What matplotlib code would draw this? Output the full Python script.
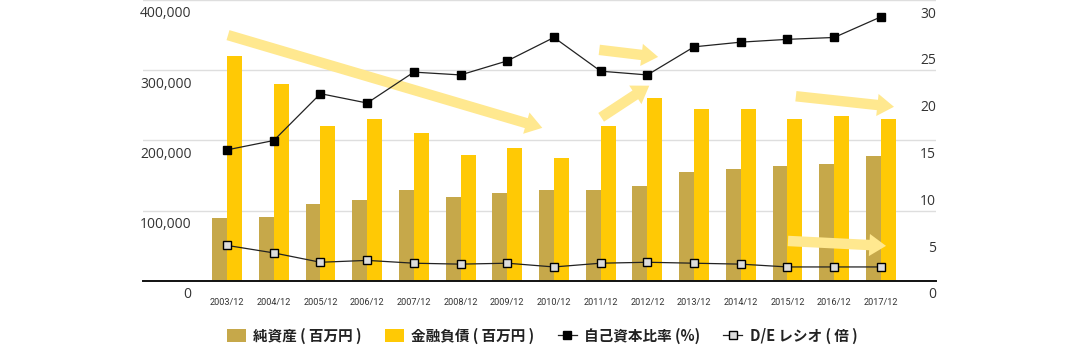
import matplotlib
matplotlib.use("Agg")
import matplotlib.pyplot as plt
import matplotlib.transforms as mtransforms
import numpy as np

plt.rcParams['font.family'] = ['Noto Sans CJK JP', 'DejaVu Sans']

years = ["2003/12", "2004/12", "2005/12", "2006/12", "2007/12", "2008/12", "2009/12", "2010/12",
         "2011/12", "2012/12", "2013/12", "2014/12", "2015/12", "2016/12", "2017/12"]
net_assets = [90000, 91000, 110000, 115000, 130000, 120000, 125000, 130000,
              130000, 135000, 155000, 159000, 164000, 166000, 178000]
fin_debt = [320000, 280000, 220000, 230000, 210000, 179000, 190000, 175000,
            220000, 260000, 245000, 245000, 230000, 235000, 231000]
equity_ratio = [14.0, 15.0, 20.0, 19.0, 22.3, 22.0, 23.5, 26.0,
                22.4, 22.0, 25.0, 25.5, 25.8, 26.0, 28.2]
de_ratio = [3.8, 3.0, 2.0, 2.2, 1.9, 1.8, 1.9, 1.5, 1.9, 2.0, 1.9, 1.8, 1.5, 1.5, 1.5]

left_ticks = [0, 100000, 200000, 300000, 400000]
right_ticks = [0, 5, 10, 15, 20, 25, 30]

# trend arrows: (x0, y0, x1, y1) in category / left-axis units
trend_arrows = [
    (0.02, 350000, 6.75, 218000),
    (7.97, 329000, 9.23, 319000),
    (8.01, 233000, 9.04, 278000),
    (12.18, 263000, 14.28, 248000),
    (12.01, 57000, 14.11, 50000),
]

TAN = "#c6a84a"
GOLD = "#ffc905"
ARROW = "#ffe88f"

fig = plt.figure(figsize=(10.8, 3.46), dpi=100)
ax = fig.add_axes([143 / 1080, 1 - 281 / 346, (936 - 143) / 1080, 281 / 346])
ax2 = ax.twinx()

x = np.arange(len(years))
w = 0.32
ax.bar(x - w / 2, net_assets, w, color=TAN, zorder=2, label="純資産 ( 百万円 )")
ax.bar(x + w / 2, fin_debt, w, color=GOLD, zorder=2, label="金融負債 ( 百万円 )")

for x0, y0, x1, y1 in trend_arrows:
    ax.annotate("", xy=(x1, y1), xytext=(x0, y0),
                arrowprops=dict(arrowstyle="simple,head_width=1.6,head_length=1.2,tail_width=0.75",
                                color=ARROW, lw=0, shrinkA=0, shrinkB=0),
                zorder=3)

ax2.plot(x, equity_ratio, color="#222222", lw=0.9, marker="s", ms=6,
         mfc="black", mec="black", label="自己資本比率 (%)", zorder=5)
ax2.plot(x, de_ratio, color="#222222", lw=0.9, marker="s", ms=6,
         mfc="#dcdcdc", mec="black", mew=1.0, label="D/E レシオ ( 倍 )", zorder=5)

ax.set_xlim(-1.8, 15.18)
ax.set_ylim(0, 400000)
ax2.set_ylim(0, 30)
ax.set_yticks(left_ticks)
ax.set_yticklabels([f"{v:,}" for v in left_ticks])
ax2.set_yticks(right_ticks)
ax2.set_yticklabels([str(v) for v in right_ticks])
ax.set_xticks(x)
ax.set_xticklabels(years, fontsize=6.6, color="#333333", family=["Roboto", "DejaVu Sans"])

ax.grid(axis="y", color="#dedede", lw=1, zorder=0)
ax.set_axisbelow(True)
for a in (ax, ax2):
    for s in a.spines.values():
        s.set_visible(False)
    a.tick_params(length=0)
ax.spines["bottom"].set_visible(True)
ax.spines["bottom"].set_color("#111111")
ax.spines["bottom"].set_linewidth(1.4)
ax.spines["bottom"].set_zorder(6)

ax.tick_params(axis="x", pad=12)
ax.tick_params(axis="y", labelsize=10, labelcolor="#333333", pad=-35)
ax2.tick_params(axis="y", labelsize=10, labelcolor="#333333", pad=0)
for lab in ax.get_yticklabels():
    lab.set_family(["Open Sans", "DejaVu Sans"])
for lab in ax2.get_yticklabels():
    lab.set_family(["Open Sans", "DejaVu Sans"])
    lab.set_horizontalalignment("right")

# value labels sit a little below their gridlines
shift = mtransforms.ScaledTranslation(0, -12 / 100, fig.dpi_scale_trans)
for lab in ax.get_yticklabels() + ax2.get_yticklabels():
    lab.set_transform(lab.get_transform() + shift)

h1, l1 = ax.get_legend_handles_labels()
h2, l2 = ax2.get_legend_handles_labels()
fig.legend(h1 + h2, l1 + l2, loc="center", bbox_to_anchor=(542 / 1080, 1 - 336 / 346),
           ncol=4, frameon=False, prop=dict(family=["Noto Sans CJK JP", "DejaVu Sans"], weight="bold", size=10.5),
           handlelength=1.3, handleheight=1.0, handletextpad=0.5, columnspacing=1.6,
           labelcolor="#222222")

fig.savefig("out.png", dpi=100)
